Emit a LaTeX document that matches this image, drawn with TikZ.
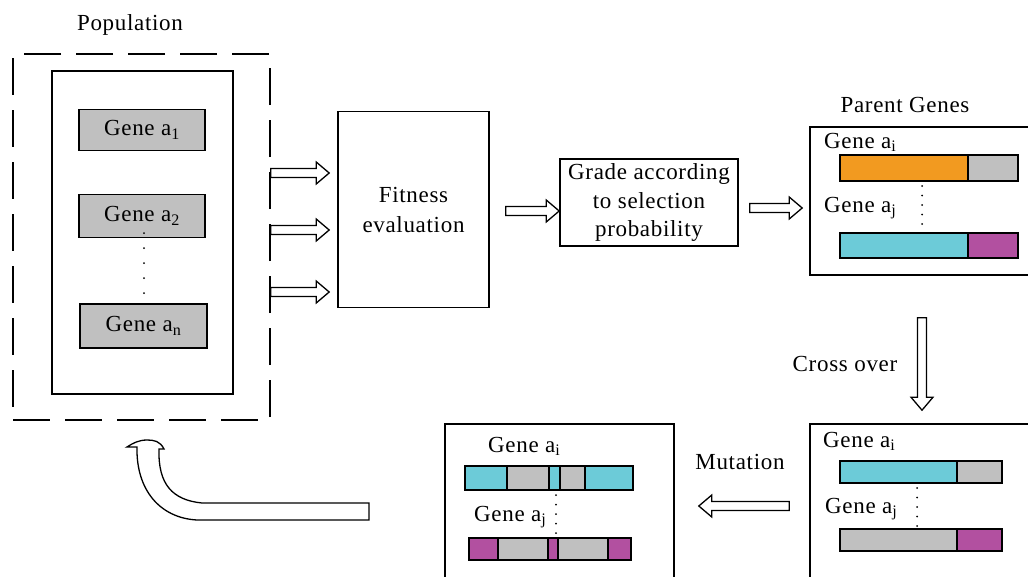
\documentclass[tikz,border=0pt]{standalone}
\usepackage{fontspec}
\setmainfont{Liberation Serif}[LetterSpace=3]
\usetikzlibrary{calc}
\definecolor{gorange}{RGB}{242,154,32}
\definecolor{ggray}{RGB}{192,192,192}
\definecolor{gcyan}{RGB}{108,203,216}
\definecolor{gmag}{RGB}{178,80,160}
\tikzset{
  lbl/.style={font=\fontsize{23}{29}\selectfont, inner sep=0pt, align=center},
  box/.style={draw, line width=1.6pt, inner sep=0pt, font=\fontsize{23}{30}\selectfont, align=center},
  dashbox/.style={box, dash pattern=on 37pt off 15pt},
  genebox/.style={box, fill=ggray, line width=1.4pt},
  bar/.style={draw, line width=1.3pt},
  blockarrow/.style={draw, line width=1.3pt, fill=white, line join=miter},
  dotline/.style={line width=2pt, line cap=round, dash pattern=on 0pt off 9.5pt},
}
% hollow block arrow between two coordinates
\newcommand\blockarrow[2]{%
  \coordinate (bas) at #1;
  \coordinate (bae) at #2;
  \coordinate (bah) at ($(bae)!13pt!(bas)$);
  \draw[blockarrow] ($(bas)!4.5pt!90:(bae)$) -- ($(bah)!4.5pt!90:(bae)$)
    -- ($(bah)!11pt!90:(bae)$) -- (bae) -- ($(bah)!11pt!-90:(bae)$)
    -- ($(bah)!4.5pt!-90:(bae)$) -- ($(bas)!4.5pt!-90:(bae)$) -- cycle;
}
\begin{document}
\begin{tikzpicture}[x=1pt,y=-1pt]
\useasboundingbox (0,0) rectangle (1028,576);
\clip (0,0) rectangle (1028,576);

% ---------- Population ----------
\node[lbl] (poplabel) at (130,25) {Population};
\node[dashbox, minimum width=257pt, minimum height=366pt] (pop) at (141.5,237) {};
\node[box, minimum width=181pt, minimum height=323pt] (popin) at (142.5,232.5) {};
\node[genebox, minimum width=126pt, minimum height=41pt] (g1) at (142,130) {Gene a\textsubscript{1}};
\node[genebox, minimum width=126pt, minimum height=43pt] (g2) at (142,216) {Gene a\textsubscript{2}};
\node[genebox, minimum width=127pt, minimum height=44pt] (gn) at (143.5,326) {Gene a\textsubscript{n}};
\draw[line width=2pt, line cap=round, dash pattern=on 0pt off 15pt]
  ($(g2.south)+(2,-5)$) -- ($(gn.north)+(0.5,-10)$);

% ---------- Fitness / Grade ----------
\node[box, minimum width=151pt, minimum height=196pt] (fit) at (413.5,209.5) {Fitness\\evaluation};
\node[box, minimum width=178pt, minimum height=87pt, font=\fontsize{23}{28.5}\selectfont] (grade) at (649,202.5)
  {Grade according\\to selection\\probability};

% ---------- Parent genes ----------
\node[lbl] (parentlabel) at (905,105) {Parent Genes};
\node[box, minimum width=235pt, minimum height=148pt] (parent) at (927.5,201) {};
\node[lbl, anchor=base west] (pai) at (824,148) {Gene a\textsubscript{i}};
\node[lbl, anchor=base west] (paj) at (824,212) {Gene a\textsubscript{j}};
\draw[bar, fill=gorange] (840,155) rectangle (968,181);
\draw[bar, fill=ggray]   (968,155) rectangle (1018,181);
\draw[bar, fill=gcyan]   (840,233) rectangle (968,258);
\draw[bar, fill=gmag]    (968,233) rectangle (1018,258);
\draw[dotline] (922,186) -- (922,230);

% ---------- Cross over result ----------
\node[lbl] (crosslabel) at (845,364) {Cross over};
\node[box, minimum width=235pt, minimum height=176pt] (cross) at (927.5,512) {};
\node[lbl, anchor=base west] (cai) at (823,447) {Gene a\textsubscript{i}};
\node[lbl, anchor=base west] (caj) at (825,513) {Gene a\textsubscript{j}};
\draw[bar, fill=gcyan] (840,461) rectangle (957,483);
\draw[bar, fill=ggray] (957,461) rectangle (1002,483);
\draw[bar, fill=ggray] (840,529) rectangle (957,551);
\draw[bar, fill=gmag]  (957,529) rectangle (1002,551);
\draw[dotline] (917,488) -- (917,527);

% ---------- Mutation result ----------
\node[lbl] (mutlabel) at (740,462) {Mutation};
\node[box, minimum width=229pt, minimum height=176pt] (mut) at (559.5,512) {};
\node[lbl, anchor=base west] (mai) at (488,452) {Gene a\textsubscript{i}};
\node[lbl, anchor=base west] (maj) at (474,521) {Gene a\textsubscript{j}};
\draw[bar, fill=gcyan] (465,466) rectangle (507,490);
\draw[bar, fill=ggray] (507,466) rectangle (549,490);
\draw[bar, fill=gcyan] (549,466) rectangle (560,490);
\draw[bar, fill=ggray] (560,466) rectangle (585,490);
\draw[bar, fill=gcyan] (585,466) rectangle (633,490);
\draw[bar, fill=gmag]  (469,538) rectangle (498,560);
\draw[bar, fill=ggray] (498,538) rectangle (548,560);
\draw[bar, fill=gmag]  (548,538) rectangle (558,560);
\draw[bar, fill=ggray] (558,538) rectangle (608,560);
\draw[bar, fill=gmag]  (608,538) rectangle (631,560);
\draw[dotline] (556,495) -- (556,536);

% ---------- Block arrows ----------
\coordinate (a1s) at ($(pop.east)+(0,-64)$);
\coordinate (a2s) at ($(pop.east)+(0,-7)$);
\coordinate (a3s) at ($(pop.east)+(0,55)$);
\blockarrow{(a1s)}{([xshift=-8pt]fit.west |- a1s)}
\blockarrow{(a2s)}{([xshift=-8pt]fit.west |- a2s)}
\blockarrow{(a3s)}{([xshift=-8pt]fit.west |- a3s)}
\coordinate (fgs) at ($(fit.east)+(16,1.5)$);
\blockarrow{(fgs)}{(grade.west |- fgs)}
\coordinate (gps) at ($(grade.east)+(11,5.5)$);
\blockarrow{(gps)}{([xshift=-7pt]parent.west |- gps)}
\coordinate (pcs) at ($(parent.south)+(-5.5,42)$);
\blockarrow{(pcs)}{([yshift=13pt]cross.north -| pcs)}
\coordinate (cms) at ($(cross.west)+(-20,-6)$);
\blockarrow{(cms)}{([xshift=24pt]mut.east |- cms)}

% ---------- Curved return arrow ----------
\draw[line width=1.3pt, fill=white, line join=miter]
  (369,503) -- (202,503) .. controls (172,500) and (158,484) .. (159,449)
  -- (164,449) .. controls (160,441) and (154,440) .. (147,440)
  .. controls (139,440) and (133,443) .. (127,447)
  -- (137,447) .. controls (136,490) and (160,518) .. (197,520)
  -- (369,520) -- cycle;
\end{tikzpicture}
\end{document}
